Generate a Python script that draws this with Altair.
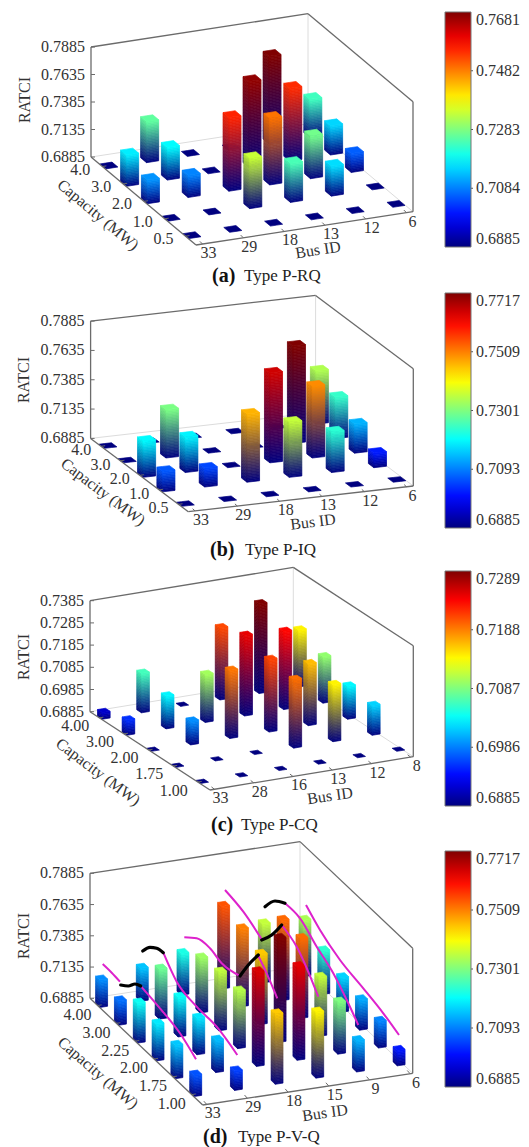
import altair as alt
import pandas as pd

alt.data_transformers.disable_max_rows()

JET = ["#00007f", "#0000ff", "#007fff", "#00ffff", "#7fff7f", "#ffff00", "#ff7f00", "#ff0000", "#7f0000"]
F = "Liberation Serif"
TXT = "#333333"

Z0 = 0.6885
# rows: capacity, first row = smallest capacity; columns: bus, left to right
BUS_A = ["33", "29", "18", "13", "12", "6"]
CAP_A = ["0.5", "1.0", "2.0", "3.0", "4.0"]
RATCI_A = [
    [Z0, Z0, Z0, Z0, Z0, Z0],
    [Z0, Z0, 0.7340, 0.7240, 0.7158, Z0],
    [0.7100, 0.7088, 0.7555, 0.7491, 0.7273, 0.7058],
    [0.7170, 0.7182, Z0, 0.7667, 0.7549, 0.7152],
    [Z0, 0.7258, Z0, Z0, 0.7681, 0.7233],
]
BUS_B = ["33", "29", "18", "13", "12", "6"]
CAP_B = ["0.5", "1.0", "2.0", "3.0", "4.0"]
RATCI_B = [
    [Z0, Z0, Z0, Z0, Z0, Z0],
    [0.7061, 0.7047, 0.7467, 0.7357, 0.7232, 0.7010],
    [0.7195, 0.7189, Z0, 0.7652, 0.7499, 0.7135],
    [Z0, 0.7297, Z0, Z0, 0.7717, 0.7240],
    [Z0, Z0, Z0, Z0, Z0, 0.7340],
]
BUS_C = ["33", "28", "16", "13", "12", "8"]
CAP_C = ["1.00", "1.75", "2.00", "3.00", "4.00"]
RATCI_C = [
    [Z0, Z0, Z0, Z0, Z0, Z0],
    [Z0, Z0, Z0, 0.7194, 0.7142, 0.7019],
    [Z0, 0.6992, 0.7192, 0.7212, 0.7164, 0.7034],
    [0.6954, 0.7033, 0.7101, 0.7248, 0.7237, 0.7094],
    [0.6915, 0.7063, Z0, 0.7210, 0.7289, 0.7142],
]
BUS_D = ["33", "29", "18", "15", "9", "6"]
CAP_D = ["1.00", "1.75", "2.00", "2.25", "3.00", "4.00"]
RATCI_D = [
    [0.7056, 0.7040, 0.7448, 0.7413, 0.7136, 0.7008],
    [0.7152, 0.7144, 0.7642, 0.7634, 0.7301, 0.7098],
    [0.7181, 0.7178, 0.7346, 0.7717, 0.7357, 0.7128],
    [0.7205, 0.7202, 0.7354, 0.7448, 0.7525, 0.7162],
    [0.7080, 0.7285, 0.7325, 0.7509, 0.7528, 0.7234],
    [0.7104, 0.7149, 0.7218, 0.7546, 0.7357, 0.7336],
]
RATCI_TICKS_ABD = ["0.6885", "0.7135", "0.7385", "0.7635", "0.7885"]
RATCI_TICKS_C = ["0.6885", "0.6985", "0.7085", "0.7185", "0.7285", "0.7385"]
BAR_TICKS_A = [0.6885, 0.7084, 0.7283, 0.7482, 0.7681]
BAR_TICKS_B = [0.6885, 0.7093, 0.7301, 0.7509, 0.7717]
BAR_TICKS_C = [0.6885, 0.6986, 0.7087, 0.7188, 0.7289]
BAR_TICKS_D = [0.6885, 0.7093, 0.7301, 0.7509, 0.7717]

MAGENTA_CURVES = [
    [(102.7, 964), (111.7, 972.7), (120, 981.7)],
    [(140.7, 986), (160, 1008.3), (180, 1033.3), (196, 1059.3)],
    [(163.3, 952.7), (176.7, 981.7), (196.7, 1006.7), (216.7, 1026.7), (237.3, 1055)],
    [(184.3, 937.3), (196.7, 938.3), (210, 948.3), (221.7, 963.3), (240, 976)],
    [(258.3, 956), (266.7, 973.3), (277.3, 998.3)],
    [(225, 890), (243.3, 911.7), (261.7, 939.3)],
    [(281.7, 925), (296.7, 946.7), (318.3, 996.7)],
    [(285, 903.3), (300, 918.3), (316.7, 946.7), (333.3, 973.3), (348.3, 1003.3), (358.3, 1025)],
    [(306, 905), (320, 930), (340, 960), (363.3, 988.3), (383.3, 1013.3), (399, 1035)],
]
BLACK_CURVES = [
    [(120.7, 985), (128.3, 986), (135, 984), (140.7, 986)],
    [(142.7, 951), (150, 947.3), (156.7, 948.3), (163.3, 952.7)],
    [(240, 976), (248.3, 965), (258.3, 955)],
    [(261.7, 940), (271.7, 935), (281.7, 925)],
    [(265, 906.7), (275, 901), (285, 903.3)],
]


def hex2rgb(h):
    return [int(h[i:i + 2], 16) for i in (1, 3, 5)]


def jet(t):
    t = max(0.0, min(1.0, t)) * (len(JET) - 1)
    i = min(int(t), len(JET) - 2)
    a, b = hex2rgb(JET[i]), hex2rgb(JET[i + 1])
    return [a[k] + (b[k] - a[k]) * (t - i) for k in range(3)]


def mix(a, b, f, shade=1.0):
    return "#%02x%02x%02x" % tuple(int(round((a[k] + (b[k] - a[k]) * f) * shade)) for k in range(3))


def polygon_rows(pts, pid, color):
    """Convex polygon -> area rows (x ascending, upper y and lower y)."""
    xs = sorted({round(p[0], 3) for p in pts})
    n = len(pts)
    rows = []
    for x in xs:
        ys = []
        for k in range(n):
            (x0, y0), (x1, y1) = pts[k], pts[(k + 1) % n]
            lo, hi = min(x0, x1), max(x0, x1)
            if lo - 1e-3 <= x <= hi + 1e-3:
                if abs(x1 - x0) < 1e-6:
                    ys += [y0, y1]
                else:
                    ys.append(y0 + (y1 - y0) * (x - x0) / (x1 - x0))
        rows.append(dict(px=x, py=min(ys), py2=max(ys), id=pid, c=color))
    return rows


def panel(P):
    top, bottom = P["top"], P["bottom"]
    ox, oy = P["O"]
    ux, uy = P["U"]
    vx, vy = P["V"]
    zpx = P["Z"]
    zr = P["zmax"] - Z0
    vmax = P["ticks"][-1]
    xs = alt.Scale(domain=[8, 521], range=[0, 513])
    ys = alt.Scale(domain=[top, bottom], range=[0, bottom - top])
    X = alt.X("x:Q", scale=xs, axis=None)
    Y = alt.Y("y:Q", scale=ys, axis=None)

    def at(a, b, v=Z0):
        return ox + a * ux + b * vx, oy + a * uy + b * vy - (v - Z0) / zr * zpx

    def seg_layer(segs, color, width):
        df = pd.DataFrame(segs, columns=["x", "y", "x2", "y2"])
        return alt.Chart(df).mark_rule(color=color, strokeWidth=width).encode(
            x=X, y=Y, x2="x2:Q", y2="y2:Q")

    # frame
    L, R, B = at(0, 1), at(1, 0), at(1, 1)
    O = (ox, oy)
    LT, RT, BT = at(0, 1, P["zmax"]), at(1, 0, P["zmax"]), at(1, 1, P["zmax"])
    light = seg_layer([(*L, *B), (*R, *B), (*B, *BT)], "#dcdcdc", 1)
    dark = seg_layer([(*O, *L), (*O, *R), (*L, *LT), (*R, *RT), (*LT, *BT), (*RT, *BT)], "#6b6b6b", 1.3)

    # ticks
    a_i = [P["a0"] + P["da"] * i for i in range(6)]
    b_j = [P["b0"] + P["db"] * j for j in range(len(P["caps"]))]
    tk = []
    for a in a_i:
        x, y = at(a, 0)
        tk.append((x, y, x + 0.025 * vx, y + 0.03 * vy))
    for b in b_j:
        x, y = at(0, b)
        tk.append((x, y, x + 4, y - 0.6))
    for s in P["zticks"]:
        x, y = at(0, 1, float(s))
        tk.append((x, y, x + 4, y))
    ticks = seg_layer(tk, "#6b6b6b", 1)

    # bars, far ones first
    rows = []
    base = hex2rgb(JET[0])
    w = P["w"] / 2
    for j in reversed(range(len(P["caps"]))):
        for i in reversed(range(6)):
            v = P["values"][j][i]
            a, b = a_i[i], b_j[j]
            top_col = jet((v - Z0) / (vmax - Z0))
            A = at(a - w, b + w)  # left corner
            C = at(a - w, b - w)  # front corner
            D = at(a + w, b - w)  # right corner
            E = at(a + w, b + w)  # back corner
            h = (v - Z0) / zr * zpx
            n = max(1, int(h / 1.5)) if h > 0.5 else 0
            pid = f"{j}-{i}"
            for s in range(n):
                h0, h1 = h * s / n, h * (s + 1) / n
                f = (s + 0.5) / n
                col = mix(base, top_col, f)
                col2 = mix(base, top_col, f, 0.94)
                rows += polygon_rows(
                    [(A[0], A[1] - h1), (C[0], C[1] - h1), (C[0], C[1] - h0), (A[0], A[1] - h0)],
                    f"{pid}-l{s}", col2)
                rows += polygon_rows(
                    [(C[0], C[1] - h1), (D[0], D[1] - h1), (D[0], D[1] - h0), (C[0], C[1] - h0)],
                    f"{pid}-r{s}", col)
            rows += polygon_rows(
                [(A[0], A[1] - h), (E[0], E[1] - h), (D[0], D[1] - h), (C[0], C[1] - h)],
                f"{pid}-t", mix(base, top_col, 1.0))
    bars = alt.Chart(pd.DataFrame(rows)).mark_area(orient="vertical", strokeWidth=0.7).encode(
        x=alt.X("px:Q", scale=xs, axis=None),
        y=alt.Y("py:Q", scale=ys, axis=None, stack=None),
        y2="py2:Q",
        detail="id:N",
        fill=alt.Fill("c:N", scale=None),
        stroke=alt.Stroke("c:N", scale=None),
    )

    def text(rows_, **kw):
        df = pd.DataFrame(rows_, columns=["x", "y", "t"])
        kw.setdefault("font", F)
        kw.setdefault("fontSize", 16)
        kw.setdefault("color", TXT)
        kw.setdefault("baseline", "middle")
        return alt.Chart(df).mark_text(**kw).encode(x=X, y=Y, text="t:N")

    cdx, cdy = P["cap_off"]
    zl = text([(at(0, 1, float(s))[0] - 6, at(0, 1, float(s))[1], s) for s in P["zticks"]], align="right")
    cl = text([(at(0, b)[0] + cdx, at(0, b)[1] + cdy, c) for b, c in zip(b_j, P["caps"])], align="right")
    bl = text([(at(a, 0)[0] + 6, at(a, 0)[1] + 9, c) for a, c in zip(a_i, P["buses"])], align="center")
    t_z = text([(*P["ratci"], "RATCI")], angle=270, align="center")
    t_c = text([(*P["cap_title"][:2], "Capacity (MW)")], angle=P["cap_title"][2], align="center")
    t_b = text([(*P["bus_title"][:2], "Bus ID")], angle=P["bus_title"][2], align="center")
    c1 = text([(P["cap"][0], P["cap"][2], P["tag"])], align="left", fontWeight="bold", fontSize=20, color="#111111")
    c2 = text([(P["cap"][1], P["cap"][2], P["type"])], align="left", fontSize=17, color="#222222")

    # colour bar: a real gradient legend of a jet scale
    bar_top, bar_bottom = P["bar"]
    legend_src = pd.DataFrame({"x": [20, 20], "y": [top + 1, top + 1], "v": [Z0, vmax]})
    bar = alt.Chart(legend_src).mark_point(size=0, filled=True, opacity=1).encode(
        x=X, y=Y,
        color=alt.Color("v:Q", scale=alt.Scale(domain=[Z0, vmax], range=JET, interpolate="rgb"),
                        legend=alt.Legend(orient="none", legendX=437, legendY=bar_top - top, title=None,
                                          values=P["ticks"], format=".4f", direction="vertical",
                                          gradientLength=bar_bottom - bar_top, gradientThickness=26,
                                          gradientStrokeColor="#777777", gradientStrokeWidth=1,
                                          gradientOpacity=1,
                                          labelFont=F, labelFontSize=16, labelColor=TXT, labelOffset=5,
                                          labelOverlap=False, padding=0, tickCount=5)),
    )
    bt = []
    for v in P["ticks"][1:-1]:
        y = bar_bottom - (v - Z0) / (vmax - Z0) * (bar_bottom - bar_top)
        bt += [(445, y, 449, y), (469, y, 473, y)]
    bar_ticks = seg_layer(bt, "#555555", 1)

    layers = [light, bars, dark, ticks, zl, cl, bl, t_z, t_c, t_b, c1, c2, bar, bar_ticks]

    if P.get("curves"):
        mrows = [dict(x=x, y=y, k=n) for n, c in enumerate(MAGENTA_CURVES) for x, y in c]
        brows = [dict(x=x, y=y, k=n) for n, c in enumerate(BLACK_CURVES) for x, y in c]
        layers.append(alt.Chart(pd.DataFrame(mrows)).mark_line(
            color="#dd22cc", strokeWidth=2, interpolate="monotone").encode(x=X, y=Y, detail="k:N"))
        layers.append(alt.Chart(pd.DataFrame(brows)).mark_line(
            color="#000000", strokeWidth=3.2, interpolate="monotone", strokeCap="round").encode(x=X, y=Y, detail="k:N"))

    return alt.layer(*layers).properties(width=513, height=bottom - top)


PANELS = [
    dict(top=8, bottom=288, O=(196, 245), U=(217, -33.3), V=(-105, -88), Z=110, zmax=0.7885,
         zticks=RATCI_TICKS_ABD, buses=BUS_A, caps=CAP_A, values=RATCI_A, ticks=BAR_TICKS_A,
         a0=0.03, da=0.188, b0=0.10, db=0.198, w=0.056, bar=(12, 247), cap_off=(-12, 3),
         ratci=(25, 100), cap_title=(98, 215, 40), bus_title=(318, 250, 351),
         cap=(212, 244, 276), tag="(a)", type="Type P-RQ"),
    dict(top=288, bottom=562, O=(188.3, 511.7), U=(225, -25.7), V=(-97.7, -73.3), Z=117.3, zmax=0.7885,
         zticks=RATCI_TICKS_ABD, buses=BUS_B, caps=CAP_B, values=RATCI_B, ticks=BAR_TICKS_B,
         a0=0.03, da=0.188, b0=0.10, db=0.198, w=0.056, bar=(293, 528), cap_off=(-10, 4),
         ratci=(24, 380), cap_title=(103, 492, 37), bus_title=(313, 522, 353),
         cap=(210, 245, 550), tag="(b)", type="Type P-IQ"),
    dict(top=562, bottom=838, O=(210, 790), U=(203.3, -33.3), V=(-120, -78.3), Z=111, zmax=0.7385,
         zticks=RATCI_TICKS_C, buses=BUS_C, caps=CAP_C, values=RATCI_C, ticks=BAR_TICKS_C,
         a0=0.022, da=0.193, b0=0.102, db=0.205, w=0.039, bar=(571, 806), cap_off=(-10, 8.5),
         ratci=(24, 657), cap_title=(98, 772, 37), bus_title=(330, 796, 352),
         cap=(211, 241, 825), tag="(c)", type="Type P-CQ"),
    dict(top=838, bottom=1139, O=(202.7, 1105), U=(210, -31.7), V=(-112.7, -106.7), Z=125, zmax=0.7885,
         zticks=RATCI_TICKS_ABD, buses=BUS_D, caps=CAP_D, values=RATCI_D, ticks=BAR_TICKS_D,
         a0=0.019, da=0.1937, b0=0.0975, db=0.167, w=0.037, bar=(851, 1087), cap_off=(-6, 9.5),
         ratci=(24, 936), cap_title=(98, 1073, 41), bus_title=(325, 1113, 352),
         cap=(203, 238, 1137), tag="(d)", type="Type P-V-Q", curves=True),
]

chart = (
    alt.vconcat(*[panel(p) for p in PANELS], spacing=0)
    .resolve_scale(color="independent")
    .properties(padding=0, background="white")
    .configure_view(stroke=None)
    .configure_concat(spacing=0)
)

chart.save("out.html", embed_options={"renderer": "svg", "actions": False})
